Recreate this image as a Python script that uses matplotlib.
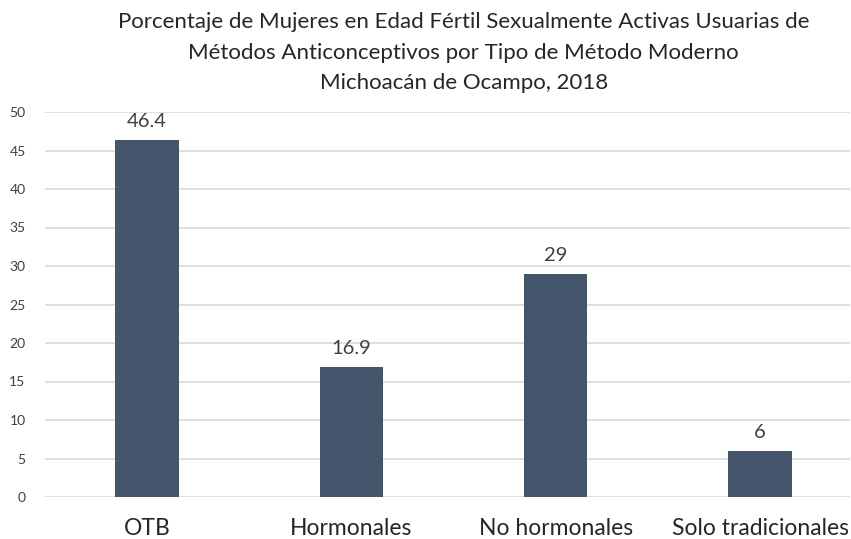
import matplotlib.pyplot as plt

plt.rcParams['font.family'] = ['Lato', 'DejaVu Sans']

categorias = ["OTB", "Hormonales", "No hormonales", "Solo tradicionales"]
valores = [46.4, 16.9, 29, 6]
etiquetas = ["46.4", "16.9", "29", "6"]
y_ticks = [0, 5, 10, 15, 20, 25, 30, 35, 40, 45, 50]

titulo = ("Porcentaje de Mujeres en Edad Fértil Sexualmente Activas Usuarias de\n"
          "Métodos Anticonceptivos por Tipo de Método Moderno\n"
          "Michoacán de Ocampo, 2018")

fig = plt.figure(figsize=(8.51, 5.39), dpi=100)
ax = fig.add_axes([45 / 851, 42 / 539, 805 / 851, 385 / 539])

x = range(len(categorias))
bars = ax.bar(x, valores, width=0.31, color="#44546A", zorder=3)
for b, lab in zip(bars, etiquetas):
    ax.annotate(lab, (b.get_x() + b.get_width() / 2, b.get_height()),
                xytext=(0, 7), textcoords="offset points",
                ha="center", va="bottom", fontsize=14.5, color="#404040")

ax.set_xlim(-0.5, 3.44)
ax.set_ylim(0, 50)
ax.set_yticks(y_ticks)
ax.set_xticks(list(x))
ax.set_xticklabels(categorias, fontsize=16.5, color="#262626")
ax.tick_params(axis="y", labelsize=10, colors="#404040", length=0, pad=14)
ax.tick_params(axis="x", length=0, pad=15)
ax.grid(axis="y", color="#D9D9D9", linewidth=1.2, zorder=0)
for s in ax.spines.values():
    s.set_visible(False)

fig.text(0.545, 0.977, titulo, ha="center", va="top", fontsize=16,
         color="#262626", linespacing=1.65)

fig.savefig("out.png", dpi=100)
